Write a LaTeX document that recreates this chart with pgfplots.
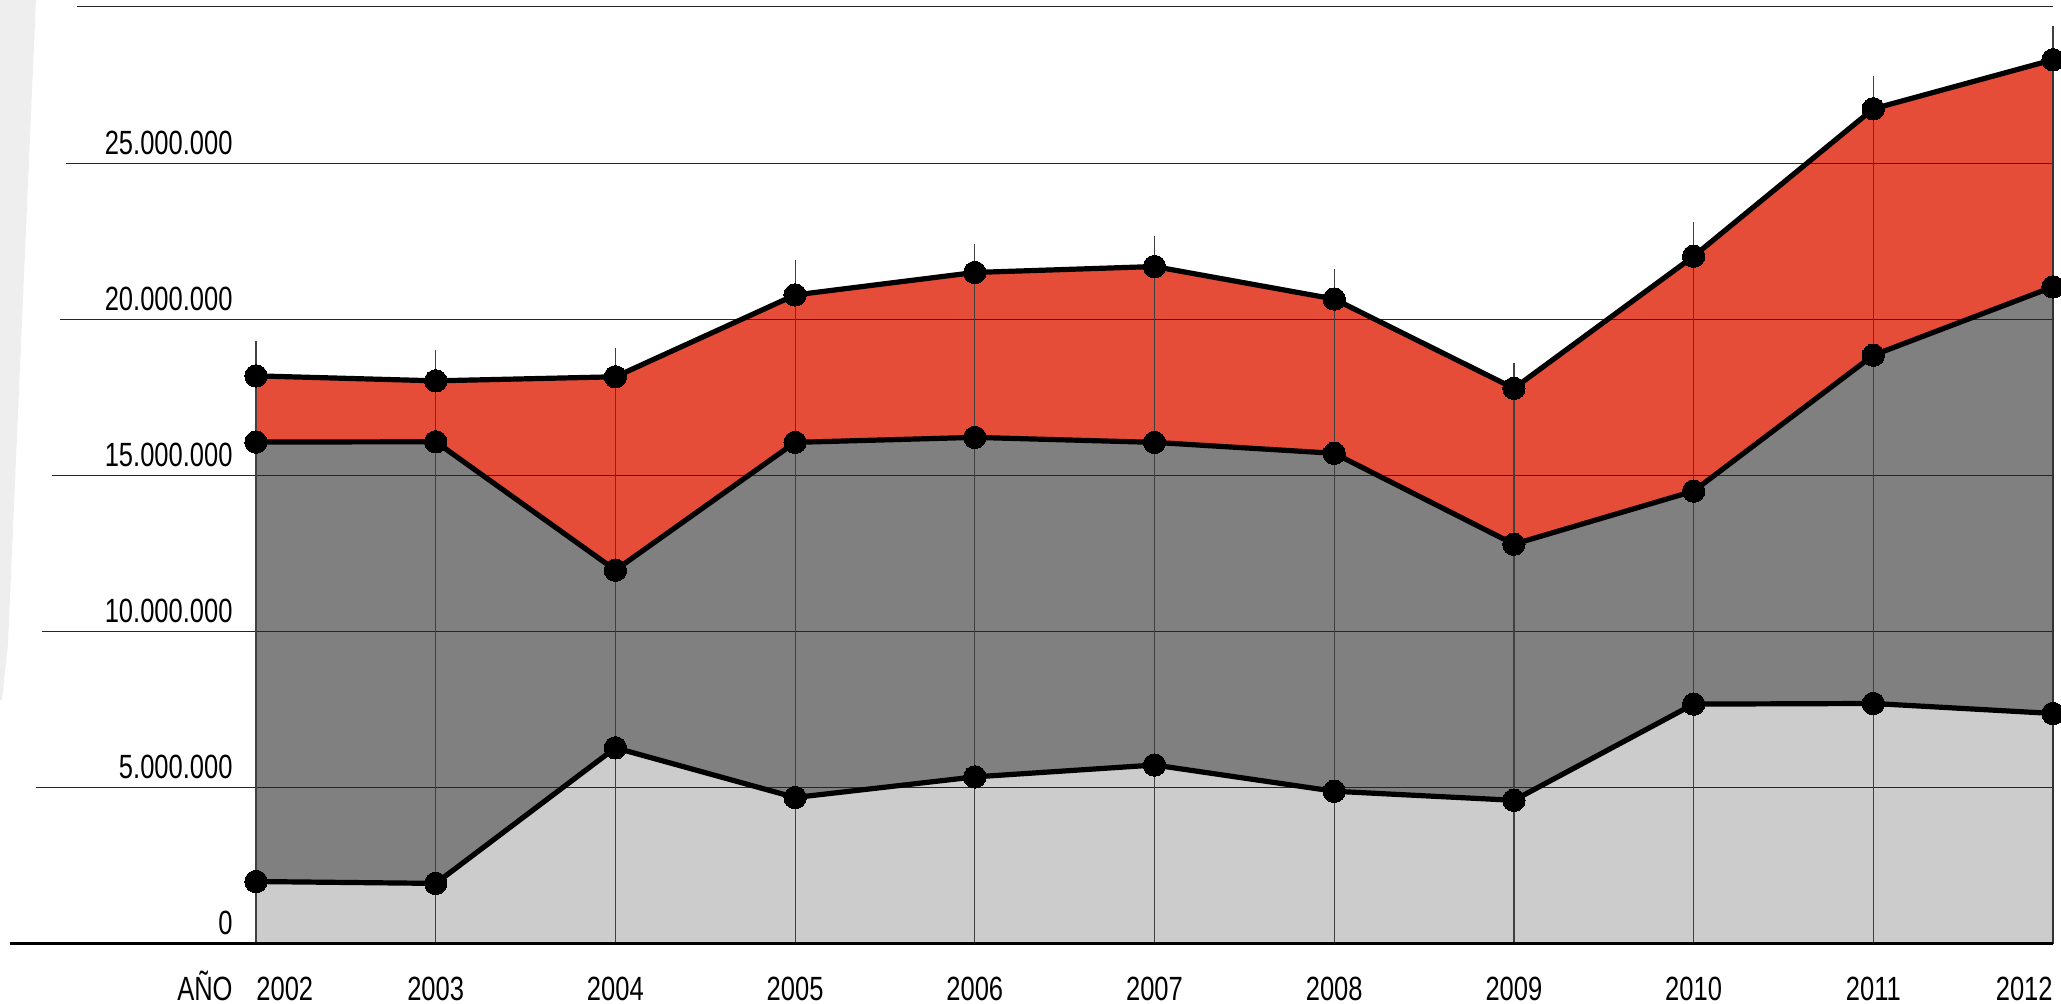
\documentclass[border=0pt]{standalone}
\usepackage{pgfplots}
\usepackage{pgfplotstable}
\pgfplotsset{compat=1.18}
\usepackage{fontspec}
\setmainfont{Liberation Sans}[FakeStretch=0.76]
\definecolor{redA}{HTML}{E64D38}
\definecolor{darkG}{HTML}{808080}
\definecolor{lightG}{HTML}{CCCCCC}

% values in millions
\pgfplotstableread{
year top   mid   bot  ext
2002 18.19 16.07 2.00 19.31
2003 18.03 16.08 1.94 19.02
2004 18.16 11.97 6.28 19.08
2005 20.78 16.06 4.69 21.90
2006 21.50 16.22 5.35 22.41
2007 21.69 16.06 5.73 22.67
2008 20.65 15.71 4.89 21.61
2009 17.79 12.80 4.60 18.60
2010 22.02 14.50 7.68 23.12
2011 26.74 18.85 7.70 27.80
2012 28.31 21.04 7.38 29.40
}\data

\begin{document}
\begin{tikzpicture}[every node/.style={font=\fontsize{16.8}{18}\selectfont, inner sep=0pt}]
\useasboundingbox (-128pt,-30pt) rectangle (902.5pt,472pt);
\fill[gray!13] (-128pt,472pt) -- (-110pt,472pt) -- (-124pt,150pt) -- (-127pt,122pt) -- (-128pt,122pt) -- cycle;
\begin{axis}[
  at={(0pt,0pt)}, anchor=south west,
  scale only axis, width=898.5pt, height=468.5pt,
  xmin=2002, xmax=2012, ymin=0, ymax=30,
  hide axis, clip=false,
]
\addplot[fill=redA, draw=none] table[x=year,y=top]{\data} \closedcycle;
\addplot[fill=darkG, draw=none] table[x=year,y=mid]{\data} \closedcycle;
\addplot[fill=lightG, draw=none] table[x=year,y=bot]{\data} \closedcycle;

% horizontal grid lines
\draw[black!85, line width=0.5pt] (axis cs:2000.776,5) -- (axis cs:2012,5);
\draw[black!85, line width=0.5pt] (axis cs:2000.809,10) -- (axis cs:2012,10);
\draw[black!85, line width=0.5pt] (axis cs:2000.865,15) -- (axis cs:2012,15);
\draw[black!85, line width=0.5pt] (axis cs:2000.909,20) -- (axis cs:2012,20);
\draw[black!85, line width=0.5pt] (axis cs:2000.943,25) -- (axis cs:2012,25);
\draw[black!85, line width=0.5pt] (axis cs:2001.004,30) -- (axis cs:2012,30);

% vertical lines
\addplot[ycomb, black!75, line width=0.6pt, no markers] table[x=year,y=ext]{\data};
\draw[black!80, line width=1pt] (axis cs:2012,0) -- (axis cs:2012,28.3);

% baseline
\draw[black, line width=1.5pt] (axis cs:2000.631,0) -- (axis cs:2012,0);

% series
\addplot[black, line width=2.6pt, mark=*, mark size=5.6pt, mark options={fill=black, line width=0pt}] table[x=year,y=bot]{\data};
\addplot[black, line width=2.6pt, mark=*, mark size=5.6pt, mark options={fill=black, line width=0pt}] table[x=year,y=mid]{\data};
\addplot[black, line width=2.6pt, mark=*, mark size=5.6pt, mark options={fill=black, line width=0pt}] table[x=year,y=top]{\data};

% y labels
\node[anchor=base east] at ([yshift=4.5pt]axis cs:2001.872,0) {0};
\node[anchor=base east] at ([yshift=4.5pt]axis cs:2001.872,5) {5.000.000};
\node[anchor=base east] at ([yshift=4.5pt]axis cs:2001.872,10) {10.000.000};
\node[anchor=base east] at ([yshift=4.5pt]axis cs:2001.872,15) {15.000.000};
\node[anchor=base east] at ([yshift=4.5pt]axis cs:2001.872,20) {20.000.000};
\node[anchor=base east] at ([yshift=4.5pt]axis cs:2001.872,25) {25.000.000};

% x labels
\node[anchor=base east] at ([yshift=-28.5pt]axis cs:2001.872,0) {AÑO};
\node[anchor=base west] at ([yshift=-28.5pt]axis cs:2002,0) {2002};
\node[anchor=base] at ([yshift=-28.5pt]axis cs:2003,0) {2003};
\node[anchor=base] at ([yshift=-28.5pt]axis cs:2004,0) {2004};
\node[anchor=base] at ([yshift=-28.5pt]axis cs:2005,0) {2005};
\node[anchor=base] at ([yshift=-28.5pt]axis cs:2006,0) {2006};
\node[anchor=base] at ([yshift=-28.5pt]axis cs:2007,0) {2007};
\node[anchor=base] at ([yshift=-28.5pt]axis cs:2008,0) {2008};
\node[anchor=base] at ([yshift=-28.5pt]axis cs:2009,0) {2009};
\node[anchor=base] at ([yshift=-28.5pt]axis cs:2010,0) {2010};
\node[anchor=base] at ([yshift=-28.5pt]axis cs:2011,0) {2011};
\node[anchor=base east] at ([yshift=-28.5pt]axis cs:2012,0) {2012};
\end{axis}
\end{tikzpicture}
\end{document}
